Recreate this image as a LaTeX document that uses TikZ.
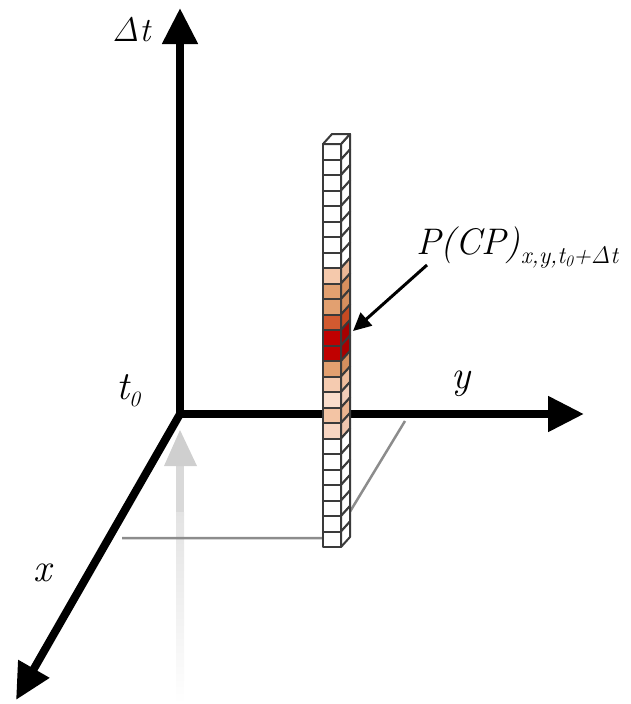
\documentclass[tikz,border=0pt]{standalone}
\usetikzlibrary{arrows.meta}
\definecolor{cellline}{HTML}{3A3A3A}
\definecolor{projgray}{HTML}{8C8C8C}
\definecolor{pA}{HTML}{F5C9AC}\definecolor{sA}{HTML}{ECB896}
\definecolor{pB}{HTML}{E2A070}\definecolor{sB}{HTML}{D68F5E}
\definecolor{pC}{HTML}{D25A30}\definecolor{sC}{HTML}{C44A22}
\definecolor{pD}{HTML}{C00000}\definecolor{sD}{HTML}{A80000}
\definecolor{pE}{HTML}{F5CBB0}\definecolor{sE}{HTML}{EDBC9C}
\definecolor{pF}{HTML}{F9DDCC}\definecolor{sF}{HTML}{F1CDB8}
\definecolor{pG}{HTML}{F3C4A4}\definecolor{sG}{HTML}{EAB490}
\definecolor{pH}{HTML}{F8D6C2}\definecolor{sH}{HTML}{F0C6AE}
\newcommand{\fsz}[1]{\fontsize{#1}{#1}\selectfont}
\begin{document}
\begin{tikzpicture}[x=1pt,y=-1pt,
  axis/.style={line width=8pt,draw=black},
  bighead/.style={-{Triangle[length=36pt,width=34pt]}},
  cell/.style={draw=cellline,line width=2pt,line join=round},
  proj/.style={draw=projgray,line width=2.5pt},
  lbl/.style={inner sep=0pt,anchor=base west,font=\fsz{40}\itshape}]
\useasboundingbox (0,0) rectangle (630,704);
% named points
\coordinate (O) at (180,414);
\coordinate (Ttip) at (180,8);
\coordinate (Ytip) at (584,414);
\coordinate (Xtip) at (16,700);
\coordinate (G1) at (122,538);
\coordinate (G2) at (334,538);
\coordinate (G3) at (405,421);
\coordinate (Ctail) at (427,265);
\coordinate (Ctip) at (353,331);
% faded gray arrow
\fill[black!15] (176,462) rectangle (184,512);
\shade[top color=black!11,bottom color=white] (176,512) rectangle (184,704);
\fill[black!19] (180,430) -- (164,466) -- (197,466) -- cycle;
% projection lines
\draw[proj] (G1) -- (G2) -- (G3);
% axes
\draw[axis,{Triangle[length=36pt,width=34pt]}-{Triangle[length=36pt,width=34pt]}] (Ttip) -- (O) -- (Ytip);
\draw[axis,line cap=round,bighead] (O) -- (Xtip);
% column
\foreach \i/\cf/\cs in {0/white/white,1/white/white,2/white/white,3/white/white,
  4/white/white,5/white/white,6/white/white,7/white/white,
  8/pA/sA,9/pB/sB,10/pB/sB,11/pC/sC,12/pD/sD,13/pD/sD,14/pB/sB,15/pE/sE,
  16/pF/sF,17/pG/sG,18/pH/sH,
  19/white/white,20/white/white,21/white/white,22/white/white,23/white/white,24/white/white,25/white/white}{
  \pgfmathsetmacro\ya{144+\i*15.5}
  \filldraw[cell,fill=\cf] (323,\ya) rectangle (341,\ya+15.5);
  \filldraw[cell,fill=\cs] (341,\ya) -- ++(9,-10) -- ++(0,15.5) -- ++(-9,10) -- cycle;
}
\filldraw[cell,fill=white] (323,144) -- (332,134) -- (350,134) -- (341,144) -- cycle;
% callout arrow
\draw[line width=3pt,-{Triangle[length=18pt,width=17pt]}] (Ctail) -- (Ctip);
% labels
\node[lbl,font=\fsz{34}\itshape] (lt) at (112,41) {Δt};
\node[lbl,font=\fsz{40}\itshape] (lt0) at (116,399) {t\raisebox{-7pt}{\fsz{22}0}};
\node[lbl] (ly) at (451,388) {y};
\node[lbl] (lx) at (33,581) {x};
\node[lbl,font=\fsz{37}\itshape] (lp) at (416,254) {P(CP)\raisebox{-9pt}{\fsz{24}\itshape x,y,t\raisebox{-3pt}{\fsz{16}0}+Δt}};
\end{tikzpicture}
\end{document}
